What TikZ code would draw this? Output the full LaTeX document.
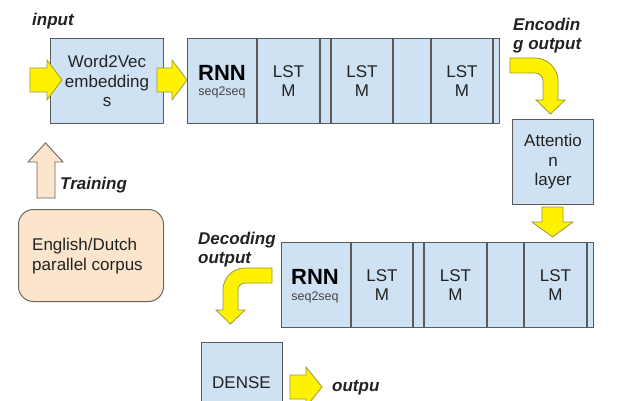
\documentclass[tikz,border=0pt]{standalone}
\usepackage{fontspec}
\setmainfont{Liberation Sans}
\definecolor{boxfill}{HTML}{CFE2F3}
\definecolor{boxline}{HTML}{5A5A5A}
\definecolor{txtc}{HTML}{222222}
\definecolor{seqc}{HTML}{444444}
\definecolor{yline}{HTML}{9A9A40}
\definecolor{peach}{HTML}{FCE5CD}
\definecolor{peachline}{HTML}{6E6660}
\begin{document}
\begin{tikzpicture}[x=1pt,y=-1pt,
  box/.style={draw=boxline, fill=boxfill, line width=1.1pt, inner sep=0pt, anchor=north west},
  cellline/.style={draw=boxline, line width=1.1pt},
  txt/.style={font=\fontsize{17}{19.5}\selectfont, text=txtc, align=center, inner sep=0pt},
  rnnt/.style={font=\fontsize{22}{22}\selectfont\bfseries, text=black, inner sep=0pt},
  seqt/.style={font=\fontsize{12.5}{13}\selectfont, text=seqc, inner sep=0pt},
  lbl/.style={font=\fontsize{17}{19}\selectfont\bfseries\itshape, text=txtc, inner sep=0pt, anchor=west, align=left},
  yarrow/.style={fill=yellow, draw=yline, line width=0.8pt, line join=miter},
]
\useasboundingbox (0,0) rectangle (632,401);
\clip (0,0) rectangle (632,401);
\fill[white] (0,0) rectangle (632,401);

% labels
\node[lbl] (linput) at (32,21) {input};
\node[lbl] (lenc) at (513,36) {Encodin\\g output};
\node[lbl] (ltrain) at (60,185) {Training};
\node[lbl] (ldec) at (198,250) {Decoding\\output};
\node[lbl] (lout) at (332,388) {outpu};

% Word2Vec box
\node[box, minimum width=113pt, minimum height=85pt] (w2v) at (50,38) {};
\node[txt] (w2vt) at (w2v.center) {Word2Vec\\embedding\\s};

% encoder row
\node[box, minimum width=312pt, minimum height=85pt] (enc) at (187,38) {};
\foreach \d in {70,133,144,206,244,306}
  \draw[cellline] ([xshift=\d pt]enc.north west) -- ([xshift=\d pt]enc.south west);
\node[rnnt] (ernn) at (222,73) {RNN};
\node[seqt] (eseq) at (222,92) {seq2seq};
\node[txt] (el1) at (288.5,81) {LST\\M};
\node[txt] (el2) at (362,81) {LST\\M};
\node[txt] (el3) at (462,81) {LST\\M};

% attention
\node[box, minimum width=81pt, minimum height=85pt] (att) at (512,119) {};
\node[txt] (attt) at (att.center) {Attentio\\n\\layer};

% decoder row
\node[box, minimum width=312pt, minimum height=85pt] (dec) at (281,242) {};
\foreach \d in {70,132,143,206,243,306}
  \draw[cellline] ([xshift=\d pt]dec.north west) -- ([xshift=\d pt]dec.south west);
\node[rnnt] (drnn) at (315,277) {RNN};
\node[seqt] (dseq) at (315,297) {seq2seq};
\node[txt] (dl1) at (382,285) {LST\\M};
\node[txt] (dl2) at (455.5,285) {LST\\M};
\node[txt] (dl3) at (555.5,285) {LST\\M};

% dense
\node[box, minimum width=81pt, minimum height=85pt] (dense) at (201,342) {};
\node[txt] (denset) at (241.5,383) {DENSE};

% corpus
\node[draw=peachline, fill=peach, line width=1pt, rounded corners=15pt,
      minimum width=145pt, minimum height=92pt, inner sep=0pt, anchor=north west] (corp) at (18,209) {};
\node[txt, align=left, anchor=west] (corpt) at (32,256) {English/Dutch\\parallel corpus};

% training arrow
\draw[fill=peach, draw=peachline, line width=0.9pt, line join=miter]
  (37,198) -- (37,162) -- (28,162) -- (45.5,143) -- (63,162) -- (55,162) -- (55,198) -- cycle;

% input arrows
\draw[yarrow] (30,68) -- (47,68) -- (47,60) -- (62,80) -- (47,100) -- (47,92) -- (30,92) -- cycle;
\draw[yarrow] (157,68) -- (172,68) -- (172,60) -- (187,80) -- (172,100) -- (172,92) -- (157,92) -- cycle;

% encoding output curved arrow
\draw[yarrow] (510,58) -- (535,58) arc[start angle=-90, end angle=0, radius=23]
  -- (558,100) -- (565,100) -- (550.5,114) -- (536,100) -- (543,100) -- (543,81)
  arc[start angle=0, end angle=-90, radius=8] -- (510,73) -- cycle;

% arrow below attention
\draw[yarrow] (542,207) -- (563,207) -- (563,222) -- (573,222) -- (552.5,237) -- (532,222) -- (542,222) -- cycle;

% decoding output curved arrow
\draw[yarrow] (272,268) -- (245,268) arc[start angle=-90, end angle=-180, radius=22]
  -- (223,310) -- (216,310) -- (230.5,324) -- (245,310) -- (238,310) -- (238,290)
  arc[start angle=-180, end angle=-90, radius=7] -- (272,283) -- cycle;

% output arrow
\draw[yarrow] (290,375) -- (306,375) -- (306,367) -- (322,387) -- (306,407) -- (306,399) -- (290,399) -- cycle;
\end{tikzpicture}
\end{document}
